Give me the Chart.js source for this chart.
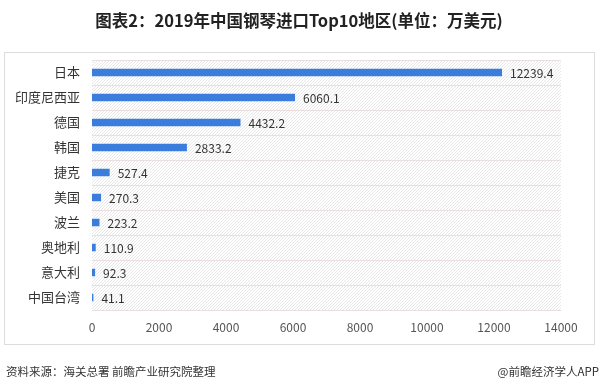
<!DOCTYPE html>
<html>
<head>
<meta charset="utf-8">
<script src="https://cdn.jsdelivr.net/npm/chart.js@4"></script>
<style>
  html, body { margin: 0; padding: 0; background: #fff; }
  #wrap { width: 600px; height: 388px; position: relative; }
</style>
</head>
<body>
<div id="wrap"><canvas id="chart" width="600" height="388"></canvas></div>
<script>
const regions = ["日本", "印度尼西亚", "德国", "韩国", "捷克", "美国", "波兰", "奥地利", "意大利", "中国台湾"];
const imports = [12239.4, 6060.1, 4432.2, 2833.2, 527.4, 270.3, 223.2, 110.9, 92.3, 41.1];
const xTicks = [0, 2000, 4000, 6000, 8000, 10000, 12000, 14000];

const titleText = "图表2：2019年中国钢琴进口Top10地区(单位：万美元)";
const sourceText = "资料来源：海关总署 前瞻产业研究院整理";
const creditText = "@前瞻经济学人APP";
const FONT = "'Noto Sans CJK SC', 'Noto Sans', sans-serif";

// frame, hatched plot background, title and footer
const decor = {
  id: "decor",
  beforeDraw(chart) {
    const { ctx, chartArea: a } = chart;
    ctx.save();
    ctx.fillStyle = "#fff";
    ctx.fillRect(0, 0, chart.width, chart.height);

    ctx.strokeStyle = "#dcdcdc";
    ctx.lineWidth = 1;
    ctx.strokeRect(4.5, 52.5, 590, 292);

    ctx.beginPath();
    ctx.rect(a.left, a.top, a.right - a.left, a.bottom - a.top);
    ctx.clip();
    ctx.strokeStyle = "rgba(195,195,195,0.4)";
    ctx.lineWidth = 1;
    ctx.beginPath();
    for (let x = a.left - (a.bottom - a.top); x < a.right; x += 3) {
      ctx.moveTo(x, a.bottom);
      ctx.lineTo(x + (a.bottom - a.top), a.top);
    }
    ctx.stroke();
    ctx.restore();

    ctx.save();
    ctx.fillStyle = "#222";
    ctx.font = "bold 16.5px " + FONT;
    ctx.textAlign = "center";
    ctx.textBaseline = "middle";
    ctx.fillText(titleText, 299, 21);

    ctx.font = "11.5px " + FONT;
    ctx.fillStyle = "#333";
    ctx.textAlign = "left";
    ctx.fillText(sourceText, 6, 372);
    ctx.textAlign = "right";
    ctx.fillText(creditText, 599, 372);
    ctx.restore();
  },
  afterDatasetsDraw(chart) {
    const { ctx } = chart;
    const meta = chart.getDatasetMeta(0);
    ctx.save();
    ctx.font = "12px " + FONT;
    ctx.fillStyle = "#333";
    ctx.textAlign = "left";
    ctx.textBaseline = "middle";
    meta.data.forEach((bar, i) => {
      ctx.fillText(imports[i].toFixed(1), bar.x + 8, bar.y + 1);
    });
    ctx.restore();
  },
};

new Chart(document.getElementById("chart"), {
  type: "bar",
  data: {
    labels: regions,
    datasets: [
      {
        data: imports,
        backgroundColor: "#3a7ddc",
        barPercentage: 0.3,
        categoryPercentage: 1,
      },
    ],
  },
  options: {
    indexAxis: "y",
    responsive: false,
    animation: false,
    layout: { padding: { left: 0, top: 60, right: 39, bottom: 0 } },
    plugins: {
      legend: { display: false },
      tooltip: { enabled: false },
    },
    scales: {
      x: {
        min: 0,
        max: 14000,
        afterBuildTicks(scale) {
          scale.ticks = xTicks.map((v) => ({ value: v }));
        },
        afterFit(scale) {
          scale.height = 78;
        },
        grid: { display: false, drawTicks: false },
        border: { display: false },
        ticks: {
          padding: 10,
          color: "#555",
          font: { size: 12, family: FONT },
          callback: (v) => String(v),
        },
      },
      y: {
        afterFit(scale) {
          scale.width = 92;
        },
        grid: { color: "#eadede", drawTicks: false, offset: true },
        border: { display: false },
        ticks: {
          padding: 12,
          color: "#333",
          font: { size: 13, family: FONT },
        },
      },
    },
  },
  plugins: [decor],
});
</script>
</body>
</html>
